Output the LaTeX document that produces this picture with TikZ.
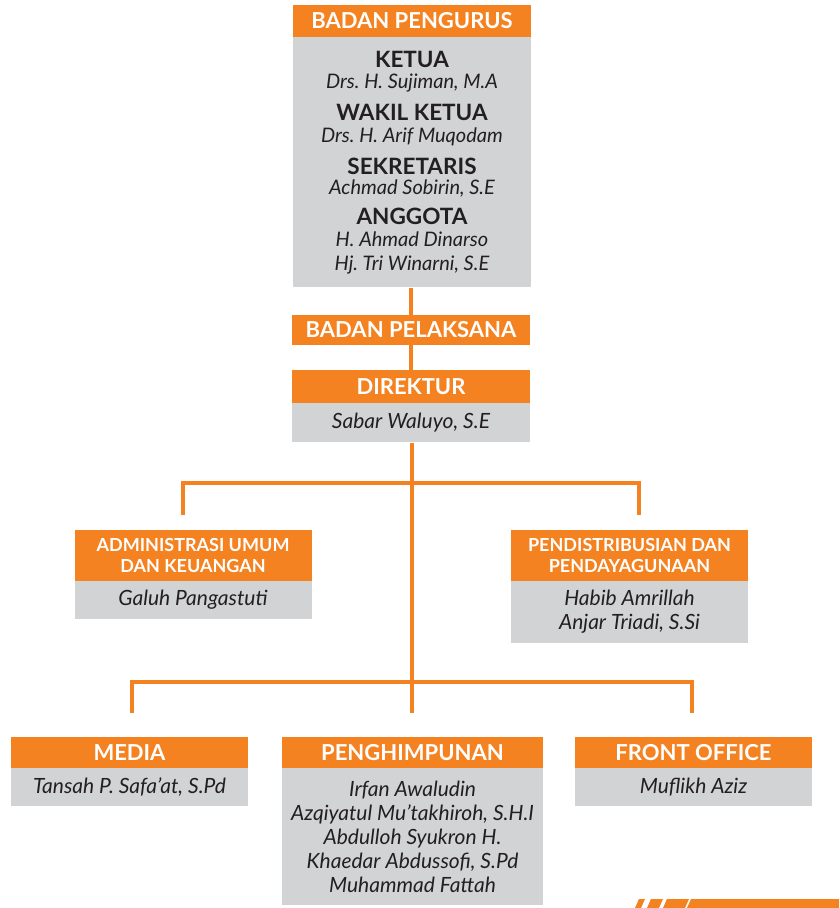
\documentclass[tikz,border=0pt]{standalone}
\usepackage{fontspec}
\setmainfont{Lato}
\usetikzlibrary{positioning}
\definecolor{orgc}{HTML}{F58220}
\definecolor{grayc}{HTML}{D1D3D4}
\definecolor{txtc}{HTML}{231F20}
\frenchspacing

\tikzset{
  head/.style={fill=orgc, text=white, font=\bfseries\fontsize{22}{24}\selectfont,
    inner sep=0pt, align=center, minimum width=238pt, minimum height=31pt},
  subhead/.style={head, font=\bfseries\fontsize{18}{21}\selectfont, minimum height=51pt},
  body/.style={fill=grayc, text=txtc, font=\itshape\fontsize{21}{24}\selectfont,
    inner sep=0pt, align=center, minimum width=238pt, minimum height=38pt},
  link/.style={draw=orgc, line width=3.5pt},
}
\newcommand{\jabatan}[1]{{\upshape\bfseries\fontsize{22.5}{24}\selectfont #1}}

\begin{document}
\begin{tikzpicture}[x=1pt, y=-1pt]
    \useasboundingbox (0,0) rectangle (839,908);

    % Badan pengurus
    \node[head, minimum height=32pt] (pengurus) at (412,21) {BADAN PENGURUS};
    \node[body, font=\itshape\fontsize{20}{24}\selectfont, minimum height=250pt, below=0pt of pengurus] (pengurusbody)
      {\jabatan{KETUA}\\[-3pt] Drs. H. Sujiman, M.A\\[8pt]
       \jabatan{WAKIL KETUA}\\[-2pt] Drs. H. Arif Muqodam\\[8pt]
       \jabatan{SEKRETARIS}\\[-4pt] Achmad Sobirin, S.E\\[6pt]
       \jabatan{ANGGOTA}\\[-2pt] H. Ahmad Dinarso\\[0pt] Hj. Tri Winarni, S.E};

    % Badan pelaksana
    \node[head, minimum height=30pt] (pelaksana) at (411,330) {BADAN PELAKSANA};
    \node[head, minimum height=33pt] (direktur) at (411,386.5) {DIREKTUR};
    \node[body, minimum height=39pt, below=0pt of direktur] (direkturbody) {Sabar Waluyo, S.E};

    % Bidang
    \node[subhead, minimum width=237pt] (admin) at (193,555) {ADMINISTRASI UMUM\\DAN KEUANGAN};
    \node[body, minimum width=237pt, below=0pt of admin] (adminbody) {Galuh Pangastuti};
    \node[subhead, minimum width=237pt] (distribusi) at (629.5,555) {PENDISTRIBUSIAN DAN\\PENDAYAGUNAAN};
    \node[body, minimum width=237pt, minimum height=62pt, below=0pt of distribusi] (distribusibody)
      {Habib Amrillah\\Anjar Triadi, S.Si};

    \node[head, minimum width=237pt] (media) at (129.5,752.5) {MEDIA};
    \node[body, minimum width=237pt, below=0pt of media] (mediabody) {Tansah P. Safa'at, S.Pd};
    \node[head, minimum width=261pt] (himpun) at (412.5,752.5) {PENGHIMPUNAN};
    \node[body, minimum width=261pt, minimum height=137pt, below=0pt of himpun] (himpunbody)
      {Irfan Awaludin\\Azqiyatul Mu'takhiroh, S.H.I\\Abdulloh Syukron H.\\Khaedar Abdussofi, S.Pd\\Muhammad Fattah};
    \node[head, minimum width=237pt] (front) at (693.5,752.5) {FRONT OFFICE};
    \node[body, minimum width=237pt, below=0pt of front] (frontbody) {Muflikh Aziz};

    % Garis
    \coordinate (cabang1) at (412,483);
    \coordinate (cabang2) at (412,682);
    \coordinate (ujungadmin) at (183,515);
    \coordinate (ujungdistribusi) at (639,515);
    \coordinate (ujungmedia) at (132,713);
    \coordinate (ujunghimpun) at (412,713);
    \coordinate (ujungfront) at (692,713);
    \draw[link] (pengurusbody.south -| pelaksana.north) -- (pelaksana.north);
    \draw[link] (pelaksana.south) -- (direktur.north);
    \draw[link] (direkturbody.south -| cabang1) -- (ujunghimpun);
    \draw[link] (ujungadmin) |- (cabang1) -| (ujungdistribusi);
    \draw[link] (ujungmedia) |- (cabang2) -| (ujungfront);

    % Hiasan pojok
    \fill[orgc] (635,908) -- (639,899) -- (645,899) -- (641,908) -- cycle;
    \fill[orgc] (647,908) -- (651,899) -- (663,899) -- (659,908) -- cycle;
    \fill[orgc] (663,908) -- (667,899) -- (689,899) -- (685,908) -- cycle;
    \fill[orgc] (687,908) -- (691,899) -- (839,899) -- (839,908) -- cycle;
\end{tikzpicture}
\end{document}
